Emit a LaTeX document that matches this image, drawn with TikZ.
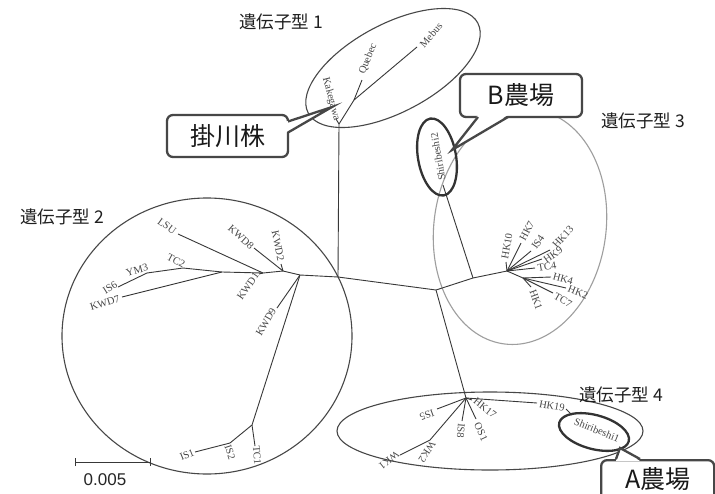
\documentclass[tikz,border=0pt]{standalone}
\usepackage{fontspec}
\setmainfont{Liberation Serif}
\newfontfamily\jpfont{Noto Sans CJK JP}
\newfontfamily\numfont{Liberation Sans}
\begin{document}
\begin{tikzpicture}[x=1pt,y=-1pt,
  br/.style={draw=black!78,line width=0.9pt},
  lf/.style={font=\fontsize{10.5}{11}\selectfont,text=black!72,inner sep=0pt},
  grp/.style={draw=black!72,line width=1.1pt},
  grplight/.style={draw=black!38,line width=1.1pt},
  gtext/.style={font=\jpfont\fontsize{17.5}{19}\selectfont,text=black!88,inner sep=0pt},
  callbox/.style={draw=black!72,line width=2.3pt,rounded corners=6pt,fill=white},
  callptr/.style={draw=black!72,line width=2.3pt,line join=miter},
  calltxt/.style={font=\jpfont\fontsize{25}{27}\selectfont,text=black!90,inner sep=0pt},
  oval/.style={draw=black!80,line width=2.3pt}]
\useasboundingbox (0,0) rectangle (715,493);
\fill[white] (0,0) rectangle (715,493);

% ---------- group outlines ----------
\draw[grp,rotate around={28:(393,68)}] (393,68) ellipse [x radius=96, y radius=44];
\draw[grp] (207,336) ellipse [x radius=145, y radius=138];
\draw[grplight,rotate around={-8:(520,227)}] (520,227) ellipse [x radius=86, y radius=118];
\draw[grp] (490,431) ellipse [x radius=153, y radius=39];

% ---------- tree: root and genotype 1 ----------
\coordinate (R) at (338,277);
\coordinate (A1) at (339,124);
\coordinate (J1) at (354,100);
\coordinate (tQ) at (362,80);
\coordinate (tM) at (417,47);
\coordinate (tK) at (336,119);
\draw[br] (R) -- (A1) -- (J1) -- (tQ);
\draw[br] (J1) -- (tM);
\draw[br] (A1) -- (tK);

% ---------- genotype 3 ----------
\coordinate (J2) at (436,290);
\coordinate (J3) at (473,278);
\coordinate (tS2) at (443,185);
\coordinate (J4) at (507,271);
\coordinate (J5) at (523,278);
\coordinate (tHK10) at (506,262);
\coordinate (tHK7) at (521,243);
\coordinate (tIS4) at (531,251);
\coordinate (tHK13) at (550,250);
\coordinate (tHK9) at (542,259);
\coordinate (tTC4) at (535,268);
\coordinate (tHK4) at (551,277);
\coordinate (tHK2) at (566,288);
\coordinate (tTC7) at (553,293);
\coordinate (tHK1) at (531,287);
\draw[br] (R) -- (J2) -- (J3) -- (J4);
\draw[br] (J3) -- (tS2);
\foreach \t in {tHK10,tHK7,tIS4,tHK13,tHK9,tTC4,J5} \draw[br] (J4) -- (\t);
\foreach \t in {tHK4,tHK2,tTC7,tHK1} \draw[br] (J5) -- (\t);

% ---------- genotype 2 ----------
\coordinate (G1) at (300,275);
\coordinate (G2) at (252,425);
\coordinate (G3) at (230,443);
\coordinate (tIS1) at (195,452);
\coordinate (tTC1) at (255,446);
\coordinate (tKWD9) at (277,308);
\coordinate (G4) at (283,271);
\coordinate (tKWD2) at (281,264);
\coordinate (tKWD8) at (254,248);
\coordinate (G5) at (263,273);
\coordinate (tKWD1) at (259,274);
\coordinate (tLSU) at (178,234);
\coordinate (G6) at (222,272);
\coordinate (nTC2) at (183,268);
\coordinate (nYM3) at (147,273);
\coordinate (tIS6) at (118,287);
\coordinate (tKWD7) at (122,297);
\draw[br] (R) -- (G1) -- (G4) -- (G5) -- (G6) -- (nTC2) -- (nYM3) -- (tIS6);
\draw[br] (G1) -- (G2) -- (G3) -- (tIS1);
\draw[br] (G2) -- (tTC1);
\draw[br] (G1) -- (tKWD9);
\draw[br] (G4) -- (tKWD2);
\draw[br] (G4) -- (tKWD8);
\draw[br] (G5) -- (tKWD1);
\draw[br] (G5) -- (tLSU);
\draw[br] (G6) -- (tKWD7);

% ---------- genotype 4 ----------
\coordinate (J6) at (466,398);
\coordinate (tIS5) at (437,409);
\coordinate (nWK2) at (430,440);
\coordinate (tWK1) at (400,455);
\coordinate (tIS8) at (462,421);
\coordinate (tOS1) at (476,419);
\coordinate (tHK17) at (472,400);
\coordinate (tHK19) at (537,403);
\coordinate (hk19end) at (566,409);
\coordinate (tS1) at (572,415);
\draw[br] (J2) -- (J6);
\draw[br] (J6) -- (tIS5);
\draw[br] (J6) -- (nWK2) -- (tWK1);
\draw[br] (J6) -- (tIS8);
\draw[br] (J6) -- (tOS1);
\draw[br] (J6) -- (tHK17);
\draw[br] (J6) -- (tHK19);
\draw[br] (hk19end) -- (tS1);

% ---------- leaf labels ----------
\node[lf,rotate=-75] (lKak) at (331,99) {Kakegawa};
\node[lf,rotate=68] (lQue) at (368,59) {Quebec};
\node[lf,rotate=49] (lMeb) at (431,35) {Mebus};
\node[lf,rotate=100] (lS2) at (438,157) {Shiribeshi2};
\node[lf,rotate=80] (lHK10) at (507,246) {HK10};
\node[lf,rotate=62] (lHK7) at (527,231) {HK7};
\node[lf,rotate=55] (lIS4) at (538,242) {IS4};
\node[lf,rotate=48] (lHK13) at (563,237) {HK13};
\node[lf,rotate=35] (lHK9) at (553,255) {HK9};
\node[lf,rotate=10] (lTC4) at (547,267) {TC4};
\node[lf,rotate=-15] (lHK4) at (563,279) {HK4};
\node[lf,rotate=-22] (lHK2) at (578,292) {HK2};
\node[lf,rotate=-30] (lTC7) at (563,300) {TC7};
\node[lf,rotate=-70] (lHK1) at (536,300) {HK1};
\node[lf,rotate=-35] (lLSU) at (167,226) {LSU};
\node[lf,rotate=-42] (lKWD8) at (241,237) {KWD8};
\node[lf,rotate=-78] (lKWD2) at (278,246) {KWD2};
\node[lf,rotate=55] (lKWD1) at (248,286) {KWD1};
\node[lf,rotate=-28] (lTC2) at (176,261) {TC2};
\node[lf,rotate=15] (lYM3) at (137,270) {YM3};
\node[lf,rotate=32] (lIS6) at (110,288) {IS6};
\node[lf,rotate=17] (lKWD7) at (105,303) {KWD7};
\node[lf,rotate=60] (lKWD9) at (266,322) {KWD9};
\node[lf,rotate=22] (lIS1) at (187,455) {IS1};
\node[lf,rotate=-72] (lIS2) at (230,452) {IS2};
\node[lf,rotate=-85] (lTC1) at (257,455) {TC1};
\node[lf,rotate=200] (lIS5) at (427,415) {IS5};
\node[lf,rotate=237] (lWK2) at (427,452) {WK2};
\node[lf,rotate=219] (lWK1) at (389,460) {WK1};
\node[lf,rotate=265] (lIS8) at (461,431) {IS8};
\node[lf,rotate=-65] (lOS1) at (481,432) {OS1};
\node[lf,rotate=-38] (lHK17) at (485,408) {HK17};
\node[lf,rotate=-10] (lHK19) at (552,406) {HK19};
\node[lf,rotate=-22] (lS1) at (597,430) {Shiribeshi1};

% ---------- genotype titles ----------
\node[gtext] (g1) at (281,22) {遺伝子型 1};
\node[gtext] (g2) at (62,217) {遺伝子型 2};
\node[gtext] (g3) at (643,121) {遺伝子型 3};
\node[gtext] (g4) at (621,395) {遺伝子型 4};

% ---------- scale bar ----------
\coordinate (sb1) at (75,462);
\coordinate (sb2) at (150,462);
\draw[br] (sb1) -- (sb2);
\draw[br] ([yshift=-4pt]sb1) -- ([yshift=4pt]sb1);
\draw[br] ([yshift=-4pt]sb2) -- ([yshift=4pt]sb2);
\node[font=\numfont\fontsize{17}{18}\selectfont,text=black!85,inner sep=0pt] (sbl) at (105,480) {0.005};

% ---------- highlighted ovals ----------
\draw[oval,rotate around={10:(437,157)}] (437,157) ellipse [x radius=19, y radius=39];
\draw[oval,rotate around={-15:(594,432)}] (594,432) ellipse [x radius=36, y radius=17];

% ---------- callouts ----------
\node[callbox,calltxt,minimum width=121pt,minimum height=42pt] (kk) at (227.5,136) {掛川株};
\coordinate (kkTip) at (332,107);
\fill[white] (286,121.5) -- (kkTip) -- (286,132.5) -- cycle;
\draw[callptr] (288,121.5) -- (kkTip) -- (288,132.5);

\node[callbox,calltxt,minimum width=122pt,minimum height=43pt] (bb) at (521,95.5) {B農場};
\coordinate (bbTip) at (452,150);
\fill[white] (478,115) -- (bbTip) -- (508,115) -- cycle;
\draw[callptr] (478,117) -- (bbTip) -- (508,117);

\node[callbox,minimum width=113pt,minimum height=48pt,anchor=north west] (ab) at (600,459) {};
\node[calltxt] (abt) at (658,479) {A農場};
\coordinate (abTip) at (620,448);
\fill[white] (616,461) -- (abTip) -- (640,461) -- cycle;
\draw[callptr] (616,459) -- (abTip) -- (640,459);
\end{tikzpicture}
\end{document}
